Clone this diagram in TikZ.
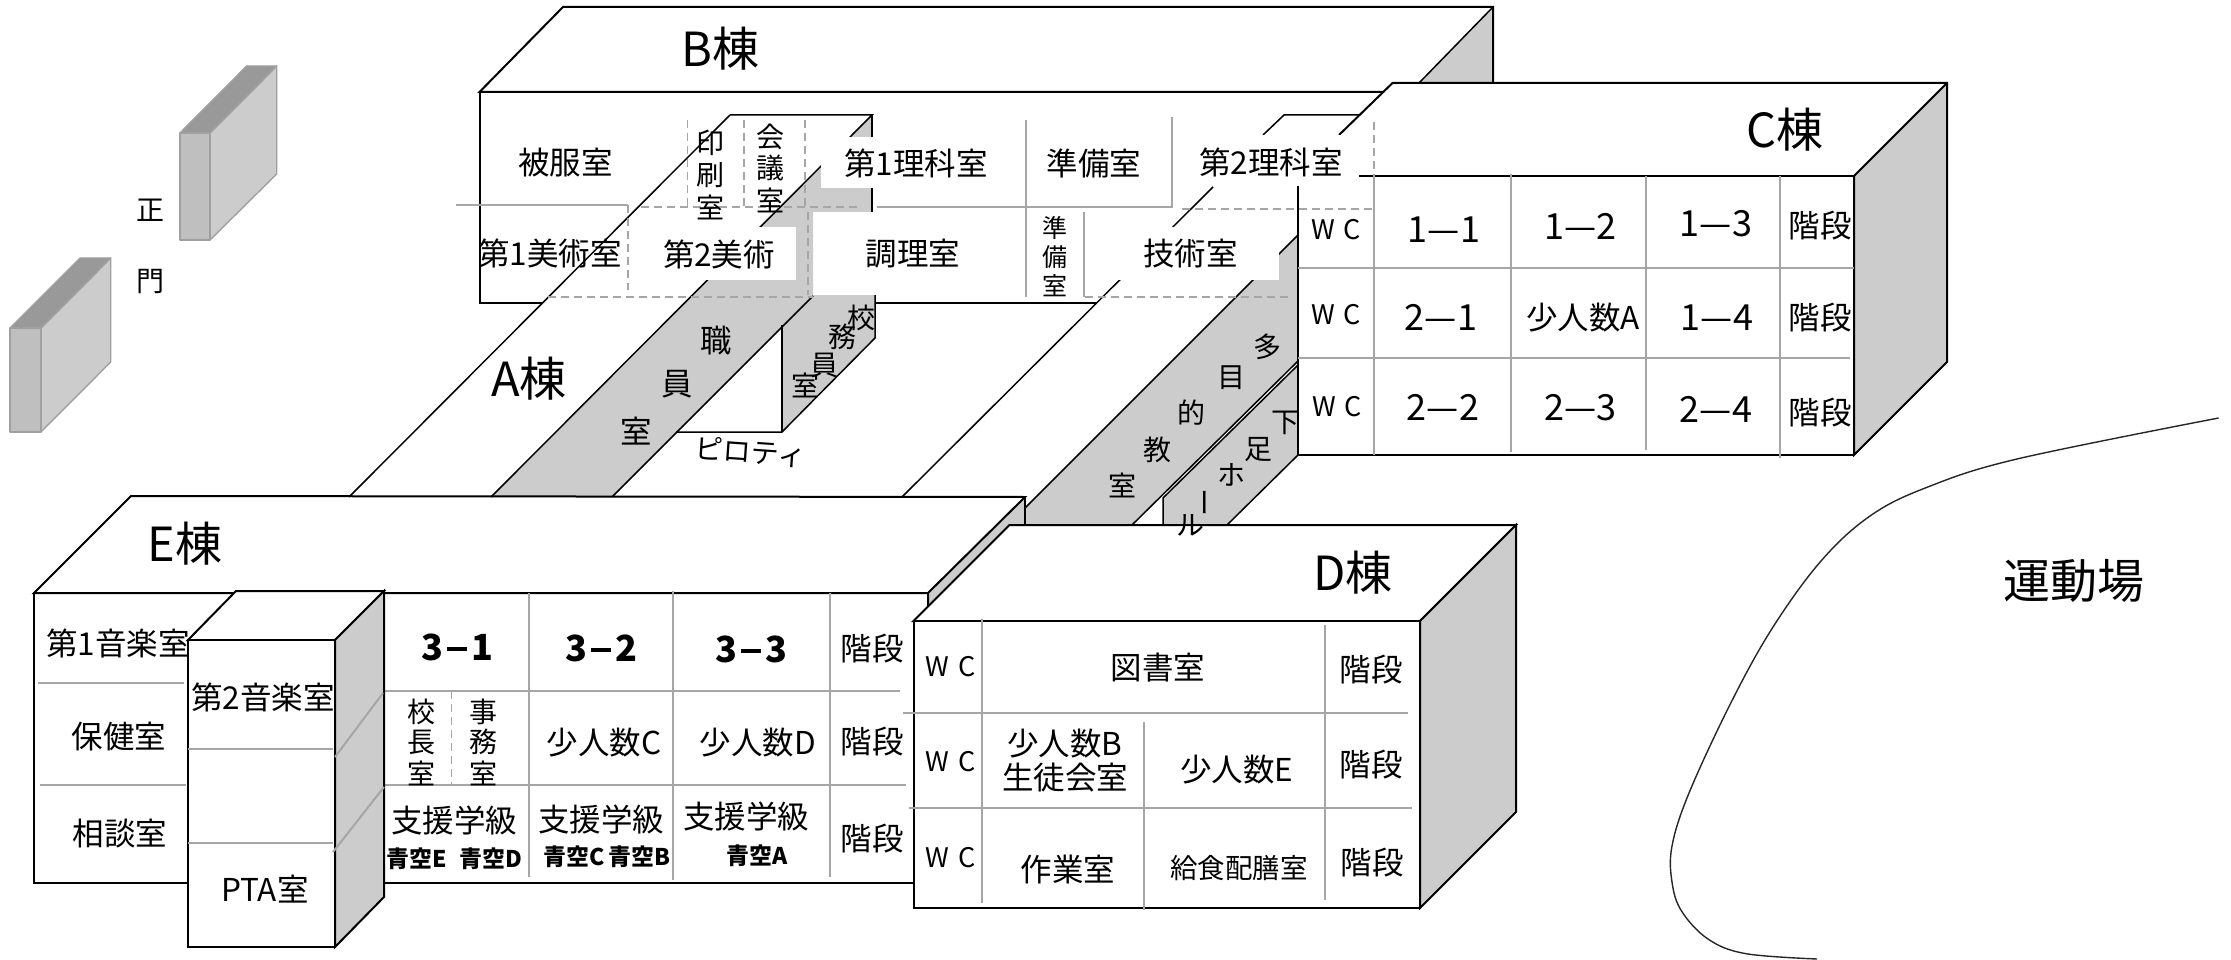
\documentclass[tikz,border=0pt]{standalone}
\usepackage{fontspec}
\setmainfont{Noto Sans CJK JP}
\definecolor{sidegray}{HTML}{CCCCCC}
\definecolor{gridgray}{HTML}{A6A6A6}
\definecolor{gatefront}{HTML}{BFBFBF}
\definecolor{gatetop}{HTML}{999999}
\definecolor{gateedge}{HTML}{A0A0A0}
\tikzset{
  bk/.style={draw=black,line width=2pt,line join=miter},
  thinbk/.style={draw=black,line width=1.5pt},
  gridl/.style={draw=gridgray,line width=2pt},
  dashl/.style={draw=gridgray,line width=1.8pt,dash pattern=on 8pt off 5pt},
  sidef/.style={fill=sidegray},
  lab/.style={inner sep=0pt,text=black,yshift=-1pt,font=\fontsize{31.5}{34}\selectfont},
  big/.style={inner sep=0pt,text=black,yshift=-1pt,font=\fontsize{47}{50}\selectfont},
  mid/.style={inner sep=0pt,text=black,font=\fontsize{28}{30}\selectfont},
  small/.style={inner sep=0pt,text=black,font=\fontsize{25}{26}\selectfont},
  wcl/.style={inner sep=0pt,text=black,font=\fontsize{27}{28}\selectfont},
  num/.style={inner sep=0pt,text=black,font=\fontsize{36}{38}\selectfont},
  boldnum/.style={inner sep=0pt,text=black,yshift=-1pt,font=\fontsize{36}{38}\selectfont\bfseries},
  blue/.style={inner sep=0pt,text=black,yshift=-1pt,font=\fontsize{23}{24}\selectfont\bfseries},
  gate/.style={draw=gateedge,line width=1.4pt,line join=round},
}
\newcommand{\lbl}[5]{\node[#1] (#2) at (#3,#4) {#5};}
\newcommand{\wc}{W\hspace{9pt}C}
\newcommand{\bdash}{\hspace{4pt}\rule[9pt]{20pt}{4.5pt}\hspace{4pt}}
\begin{document}
\begin{tikzpicture}[x=1pt,y=-1pt]
\useasboundingbox (0,0) rectangle (2231,960);
% gates
\filldraw[gate,fill=sidegray] (210,133)--(276.7,66)--(276.7,174)--(210,240)--cycle;
\filldraw[gate,fill=gatetop] (180,133)--(246.7,66)--(276.7,66)--(210,133)--cycle;
\filldraw[gate,fill=gatefront] (180,133) rectangle (210,240);
\filldraw[gate,fill=sidegray] (41,328)--(110.7,258)--(110.7,362)--(41,432)--cycle;
\filldraw[gate,fill=gatetop] (10,328)--(80,258)--(110.7,258)--(41,328)--cycle;
\filldraw[gate,fill=gatefront] (10,328) rectangle (41,432);
% B building
\fill[sidef] (1493,7)--(1493,83)--(1419,83)--cycle;
\draw[bk] (1384,92)--(479.5,92)--(563,7)--(1493,7)--(1493,83);
\draw[thinbk] (1493,7)--(1419,83);
\draw[bk] (479.5,92)--(479.5,303)--(542,303);
\draw[bk] (874,303)--(1097,303);
% A building
\fill[sidef] (872,115)--(491,497)--(612,497)--(813,296)--(813,212)--(872,212)--cycle;
\fill[sidef] (813,295)--(875,295)--(875,338)--(782,432)--(782,325)--cycle;
\draw[thinbk] (730,115)--(872,115)--(491,497);
\draw[thinbk] (730,115)--(349,497);
\draw[thinbk] (612,497)--(813,296);
\draw[thinbk] (872,115)--(872,212);
\draw[thinbk] (875,295)--(875,338)--(782,432)--(676,432);
\draw[thinbk] (782,325)--(782,432);
\draw[thinbk] (1213,187)--(902,497);
% multi-purpose wing
\fill[sidef] (1298,235)--(1025,508)--(1025,525)--(1132,525)--(1298,360)--cycle;
\fill[sidef] (1298,365)--(1163,498)--(1163,525)--(1227,525)--(1298,455)--cycle;
\draw[thinbk] (1298,235)--(1025,508);
\draw[thinbk] (1298,361)--(1132,525);
\draw[thinbk] (1298,365)--(1163,498)--(1163,525);
\draw[thinbk] (1298,455)--(1227,525);
\draw[thinbk] (1263,135)--(1284,115)--(1360,115);
% C building
\fill[sidef] (1854,176)--(1947,83)--(1947,362)--(1854,455)--cycle;
\draw[bk] (1339,135)--(1392.5,83)--(1947,83)--(1947,362)--(1854,455)--(1854,176)--(1947,83);
\draw[bk] (1298,186)--(1298,455)--(1854,455);
\draw[bk] (1359,176)--(1854,176);
% white label patches
\fill[white] (821,137) rectangle (1020,188);
\fill[white] (628,227) rectangle (796,280);
\fill[white] (1100,227) rectangle (1279,280);
\fill[white] (1175,135) rectangle (1358,186);
\draw[bk] (1298,186)--(1298,235);
% B grid
\draw[gridl] (456,205)--(628,205);
\draw[dashl] (641,207)--(861,207);
\draw[gridl] (877,207)--(1172,207)--(1172,117);
\draw[gridl] (1025.5,120)--(1025.5,297);
\draw[gridl] (1084,212)--(1084,297);
\draw[dashl] (687.5,120)--(687.5,207);
\draw[dashl] (743.6,120)--(743.6,207);
\draw[dashl] (805,120)--(805,207);
\draw[dashl] (628,205)--(628,290);
\draw[dashl] (808,212)--(808,295);
\draw[dashl] (548,297)--(813,297);
\draw[dashl] (1085,297)--(1288,297);
\draw[dashl] (1182,209)--(1373,209);
% C grid
\draw[dashl] (1373.6,122)--(1373.6,176);
\draw[gridl] (1373.6,176)--(1373.6,455);
\draw[gridl] (1511,174)--(1511,452);
\draw[gridl] (1646,176)--(1646,450);
\draw[gridl] (1779.6,176)--(1779.6,458);
\draw[gridl] (1298,268)--(1854,268);
\draw[gridl] (1298,358)--(1850,358);
% E building
\fill[sidef] (1025,497)--(928,593)--(928,606)--(1009.5,525)--(1025,525)--cycle;
\draw[bk] (928,593)--(34,593)--(131,496)--(1025,497)--(928,593)--(928,606);
\draw[thinbk] (1025,497)--(1025,525);
\draw[bk] (34,593)--(34,883)--(188,883);
\draw[bk] (384,883)--(915,883);
\draw[gridl] (38,683)--(184,683);
\draw[gridl] (40,785)--(186,785);
\draw[gridl] (380,691)--(900,691);
\draw[gridl] (384,785)--(906,785);
\draw[gridl] (529,593)--(529,877);
\draw[gridl] (673,591)--(673,880);
\draw[gridl] (830,593)--(830,877);
\draw[draw=gridgray,line width=1.6pt,dash pattern=on 8pt off 5pt] (451.5,691)--(451.5,785);
% PTA block
\filldraw[bk,fill=white] (188,640)--(236,591)--(384,591)--(335,640)--cycle;
\filldraw[bk,fill=sidegray] (335,640)--(384,591)--(384,897)--(335,947)--cycle;
\filldraw[bk,fill=white] (188,640) rectangle (335,947);
\draw[gridl] (188,749)--(333,749);
\draw[gridl] (188,843)--(333,843);
\draw[gridl] (335,757)--(383,693);
\draw[gridl] (333,852)--(384,787);
% D building
\filldraw[bk,fill=white] (913.5,621)--(1009.5,525)--(1516,525)--(1420,621)--cycle;
\filldraw[bk,fill=sidegray] (1420,621)--(1516,525)--(1516,812)--(1420,908)--cycle;
\filldraw[bk,fill=white] (913.5,621) rectangle (1420,908);
\draw[gridl] (982,619)--(982,903);
\draw[gridl] (1325,625)--(1325,900);
\draw[gridl] (1144,722)--(1144,910);
\draw[gridl] (903,713)--(1408,713);
\draw[gridl] (909,808)--(1412,808);
% playground edge
\draw[draw=black!85,line width=1.4pt] plot[smooth,tension=0.6] coordinates {(2218.6,418) (2017,459) (1926.5,487.5) (1870,516) (1821,561) (1772,628.6) (1730.5,703.6) (1689,793) (1672,846) (1672,882) (1681.5,911) (1708,939) (1745.5,953.6) (1817,959)};
% labels
\lbl{mid}{gsei}{150}{210}{正}
\lbl{mid}{gmon}{150}{282}{門}
\lbl{big}{bto}{720.6}{48}{B棟}
\lbl{big}{ato}{529}{378}{A棟}
\lbl{big}{cto}{1785}{129}{C棟}
\lbl{big}{dto}{1353}{572}{D棟}
\lbl{big}{eto}{185}{543}{E棟}
\lbl{big}{undo}{2073.5}{580}{運動場}
\lbl{lab}{hifuku}{565.6}{162}{被服室}
\lbl{mid}{in1}{710}{143}{印}
\lbl{mid}{in2}{710}{175}{刷}
\lbl{mid}{in3}{710}{207}{室}
\lbl{mid}{kai1}{770}{137}{会}
\lbl{mid}{kai2}{770}{168}{議}
\lbl{mid}{kai3}{770}{200}{室}
\lbl{lab}{ri1}{916}{162}{第1理科室}
\lbl{lab}{jun1}{1094}{162}{準備室}
\lbl{lab}{ri2}{1271}{161}{第2理科室}
\lbl{lab}{bi1}{550}{252}{第1美術室}
\lbl{lab}{bi2}{719}{253}{第2美術}
\lbl{lab}{chori}{913}{253}{調理室}
\lbl{small}{jb1}{1055}{228}{準}
\lbl{small}{jb2}{1055}{257}{備}
\lbl{small}{jb3}{1055}{286}{室}
\lbl{lab}{gijutsu}{1190.6}{253}{技術室}
\lbl{mid}{ko1}{861}{318}{校}
\lbl{mid}{ko2}{842}{337}{務}
\lbl{mid}{ko3}{824}{365}{員}
\lbl{mid}{ko4}{805}{385}{室}
\lbl{lab}{sh1}{716}{340}{職}
\lbl{lab}{sh2}{677}{383}{員}
\lbl{lab}{sh3}{636}{430}{室}
\node[mid,rotate=-4] (piloti) at (750.6,452) {ピロティ};
\lbl{mid}{ta1}{1267}{347}{多}
\lbl{mid}{ta2}{1231}{378}{目}
\lbl{mid}{ta3}{1191}{413}{的}
\lbl{mid}{ta4}{1157.5}{450}{教}
\lbl{mid}{ta5}{1122}{485}{室}
\lbl{mid}{ge1}{1285}{423}{下}
\lbl{mid}{ge2}{1258}{450}{足}
\lbl{mid}{ge3}{1231}{475}{ホ}
\node[mid,rotate=90] (ge4) at (1209.5,502) {ー};
\lbl{mid}{ge5}{1190}{525}{ル}
% C labels
\lbl{wcl}{cw1}{1336}{230}{\wc}
\lbl{wcl}{cw2}{1336}{315}{\wc}
\lbl{wcl}{cw3}{1337}{407}{\wc}
\lbl{num}{c11}{1444}{230}{1—1}
\lbl{num}{c12}{1580.6}{226}{1—2}
\lbl{num}{c13}{1716}{224}{1—3}
\lbl{num}{c21}{1441}{317}{2—1}
\lbl{lab}{csA}{1583}{317}{少人数A}
\lbl{num}{c14}{1717}{318}{1—4}
\lbl{num}{c22}{1443}{407}{2—2}
\lbl{num}{c23}{1580.6}{408}{2—3}
\lbl{num}{c24}{1716}{409}{2—4}
\lbl{lab}{cs1}{1820}{225}{階段}
\lbl{lab}{cs2}{1820}{317}{階段}
\lbl{lab}{cs3}{1820}{412}{階段}
% E labels
\lbl{lab}{on1}{118}{642}{第1音楽室}
\lbl{lab}{hoken}{119}{736}{保健室}
\lbl{lab}{sodan}{120}{833}{相談室}
\lbl{lab}{on2}{263}{696}{第2音楽室}
\lbl{lab}{pta}{265}{888}{PTA室}
\lbl{boldnum}{e31}{457}{646}{3\bdash 1}
\lbl{boldnum}{e32}{601}{647}{3\bdash 2}
\lbl{boldnum}{e33}{751}{648}{3\bdash 3}
\lbl{lab}{es1}{872}{648}{階段}
\lbl{lab}{es2}{872}{741}{階段}
\lbl{lab}{es3}{872}{838}{階段}
\lbl{mid}{kc1}{421}{712}{校}
\lbl{mid}{kc2}{421}{742}{長}
\lbl{mid}{kc3}{421}{773}{室}
\lbl{mid}{jm1}{483}{712}{事}
\lbl{mid}{jm2}{483}{742}{務}
\lbl{mid}{jm3}{483}{773}{室}
\lbl{lab}{esC}{604}{742}{少人数C}
\lbl{lab}{esD}{758}{742}{少人数D}
\lbl{lab}{shi1}{454}{819}{支援学級}
\lbl{lab}{shi2}{601}{818}{支援学級}
\lbl{lab}{shi3}{746}{815}{支援学級}
\lbl{blue}{aoE}{416.5}{858}{青空E}
\lbl{blue}{aoD}{491}{858}{青空D}
\lbl{blue}{aoC}{574}{856}{青空C}
\lbl{blue}{aoB}{639}{856}{青空B}
\lbl{blue}{aoA}{757}{855}{青空A}
% D labels
\lbl{wcl}{dw1}{950.5}{667}{\wc}
\lbl{wcl}{dw2}{950.5}{762}{\wc}
\lbl{wcl}{dw3}{950.5}{858}{\wc}
\lbl{lab}{tosho}{1158}{667}{図書室}
\lbl{lab}{ds1}{1371}{669}{階段}
\lbl{lab}{ds2}{1371}{764}{階段}
\lbl{lab}{ds3}{1372}{862}{階段}
\lbl{lab}{dsB}{1065}{743}{少人数B}
\lbl{lab}{seito}{1065}{777}{生徒会室}
\lbl{lab}{dsE}{1237}{769}{少人数E}
\lbl{lab}{sagyo}{1068}{869}{作業室}
\node[inner sep=0pt,yshift=-1pt,font=\fontsize{27.5}{28}\selectfont] (kyu) at (1239,867) {給食配膳室};
\end{tikzpicture}
\end{document}
